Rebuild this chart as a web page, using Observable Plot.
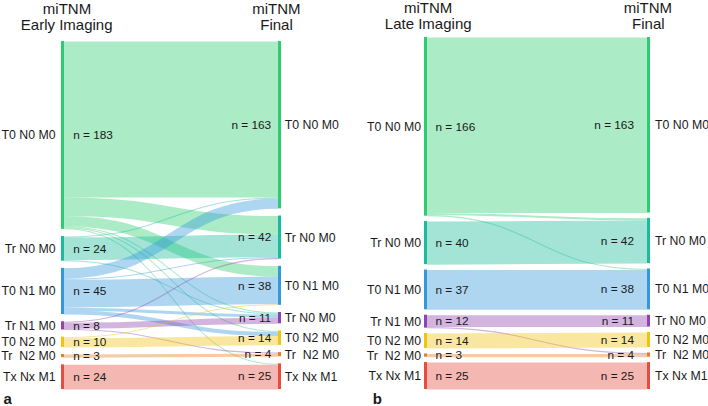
<!DOCTYPE html>
<html>
<head>
<meta charset="utf-8">
<script src="https://cdn.jsdelivr.net/npm/d3@7"></script>
<script src="https://cdn.jsdelivr.net/npm/@observablehq/plot@0.6"></script>
<style>
  html, body { margin: 0; padding: 0; background: #fff; }
  #wrap { display: flex; flex-direction: row; width: 708px; height: 406px; overflow: hidden; }
  #wrap svg { display: block; }
</style>
</head>
<body>
<div id="wrap"></div>
<script>
// ---- data ----
const categories = ["T0 N0 M0", "Tr N0 M0", "T0 N1 M0", "Tr N1 M0", "T0 N2 M0", "Tr\u00A0\u00A0N2 M0", "Tx Nx M1"];
const finalLabels = ["T0 N0 M0", "Tr N0 M0", "T0 N1 M0", "Tr N0 M0", "T0 N2 M0", "Tr\u00A0\u00A0N2 M0", "Tx Nx M1"];
const earlyCounts = [183, 24, 45, 8, 10, 3, 24];
const lateCounts = [166, 40, 37, 12, 14, 3, 25];
const finalCounts = [163, 42, 38, 11, 14, 4, 25];
// flows: [source index, target index, patients]
const earlyFlows = [
  [0, 0, 152], [0, 1, 18], [0, 2, 10], [0, 3, 1], [0, 4, 1], [0, 6, 1],
  [1, 0, 1], [1, 1, 22], [1, 3, 1],
  [2, 0, 10], [2, 1, 1], [2, 2, 27], [2, 3, 3], [2, 4, 4],
  [3, 1, 1], [3, 3, 6], [3, 5, 1],
  [4, 2, 1], [4, 4, 9],
  [5, 5, 3],
  [6, 6, 24]
];
const lateFlows = [
  [0, 0, 163], [0, 1, 2], [0, 2, 1],
  [1, 1, 40],
  [2, 2, 37],
  [3, 3, 11], [3, 5, 1],
  [4, 4, 14],
  [5, 5, 3],
  [6, 6, 25]
];
const colors = ["#2ecc71", "#1abc9c", "#3498db", "#8e44ad", "#f1c40f", "#e67e22", "#e74c3c"];
const panels = [
  {letter: "a", leftTitle: "Early Imaging", counts: earlyCounts, flows: earlyFlows},
  {letter: "b", leftTitle: "Late Imaging", counts: lateCounts, flows: lateFlows}
];

// ---- layout helpers ----
function stackNodes(counts, gap) {
  let y = 0;
  return counts.map((v, i) => {
    const n = {i, value: v, y0: y, y1: y + v};
    y += v + gap;
    return n;
  });
}

function buildPanel(p, opt) {
  const gap = opt.gap;
  const left = stackNodes(p.counts, gap);
  const right = stackNodes(finalCounts, gap);
  const total = left[left.length - 1].y1;
  const links = p.flows.map(([s, t, v]) => ({s, t, value: v}));
  left.forEach(n => {
    let off = n.y0;
    links.filter(l => l.s === n.i).sort((a, b) => a.t - b.t).forEach(l => { l.ys = off + l.value / 2; off += l.value; });
  });
  right.forEach(n => {
    let off = n.y0;
    links.filter(l => l.t === n.i).sort((a, b) => a.s - b.s).forEach(l => { l.yt = off + l.value / 2; off += l.value; });
  });
  const height = 406;
  const k = (height - opt.marginTop - opt.marginBottom) / total; // px per patient
  const font = "'Liberation Sans', Arial, Helvetica, sans-serif";
  const ink = "#1a1a1a";
  return Plot.plot({
    width: 354,
    height,
    marginLeft: opt.marginLeft,
    marginRight: opt.marginRight,
    marginTop: opt.marginTop,
    marginBottom: opt.marginBottom,
    style: {fontFamily: font, background: "#fff", overflow: "visible"},
    x: {domain: [0, 1], axis: null},
    y: {domain: [0, total], reverse: true, axis: null},
    color: {type: "ordinal", domain: categories, range: colors},
    marks: [
      Plot.link(links, {
        x1: () => 0, x2: () => 1,
        y1: "ys", y2: "yt",
        curve: "bump-x",
        stroke: d => categories[d.s],
        strokeWidth: d => d.value * k,
        strokeOpacity: 0.4
      }),
      Plot.ruleX(left, {x: 0, y1: "y0", y2: "y1", stroke: d => categories[d.i], strokeWidth: 3, dx: -1.5}),
      Plot.ruleX(right, {x: 1, y1: "y0", y2: "y1", stroke: d => categories[d.i], strokeWidth: 3, dx: 1.5}),
      Plot.text(left, {x: 0, y: d => (d.y0 + d.y1) / 2, text: d => categories[d.i], textAnchor: "end", lineAnchor: "middle", dx: opt.lNameDx, fontSize: 12.3, fill: ink}),
      Plot.text(left, {x: 0, y: d => (d.y0 + d.y1) / 2, text: d => `n = ${d.value}`, textAnchor: "start", lineAnchor: "middle", dx: opt.lCountDx, fontSize: 11.8, fill: ink}),
      Plot.text(right, {x: 1, y: d => (d.y0 + d.y1) / 2, text: d => finalLabels[d.i], textAnchor: "start", lineAnchor: "middle", dx: opt.rNameDx, fontSize: 12.3, fill: ink}),
      Plot.text(right, {x: 1, y: d => (d.y0 + d.y1) / 2, text: d => `n = ${d.value}`, textAnchor: "end", lineAnchor: "middle", dx: opt.rCountDx, fontSize: 11.8, fill: ink}),
      Plot.text(["miTNM"], {x: 0, frameAnchor: "top", lineAnchor: "middle", text: d => d, dx: opt.t1dx, dy: opt.t1dy, fontSize: 15, fill: ink}),
      Plot.text([p.leftTitle], {x: 0, frameAnchor: "top", lineAnchor: "middle", text: d => d, dx: opt.t2dx, dy: opt.t2dy, fontSize: 15, fill: ink}),
      Plot.text(["miTNM"], {x: 1, frameAnchor: "top", lineAnchor: "middle", text: d => d, dx: opt.t3dx, dy: opt.t1dy, fontSize: 15, fill: ink}),
      Plot.text(["Final"], {x: 1, frameAnchor: "top", lineAnchor: "middle", text: d => d, dx: opt.t4dx, dy: opt.t2dy, fontSize: 15, fill: ink}),
      Plot.text([p.letter], {frameAnchor: "bottom-left", lineAnchor: "middle", text: d => d, textAnchor: "start", dx: opt.letterDx, dy: 9.2, fontSize: 15, fontWeight: "bold", fill: ink})
    ]
  });
}

const wrap = document.getElementById("wrap");
wrap.appendChild(buildPanel(panels[0], {
  gap: 7, marginLeft: 63.5, marginRight: 76.5, marginTop: 41, marginBottom: 17,
  lNameDx: -8.5, lCountDx: 9.2, rNameDx: 6.8, rCountDx: -6.8,
  t1dx: 3, t2dx: 2.7, t3dx: -1.7, t4dx: -1.5, t1dy: -32.3, t2dy: -16.3, letterDx: -60.5
}));
wrap.appendChild(buildPanel(panels[1], {
  gap: 5, marginLeft: 72.5, marginRight: 61.5, marginTop: 37, marginBottom: 17,
  lNameDx: -6, lCountDx: 8.5, rNameDx: 8, rCountDx: -13,
  t1dx: 1.2, t2dx: 1.2, t3dx: 0.8, t4dx: 1.3, t1dy: -29.3, t2dy: -13.3, letterDx: -54.2
}));
</script>
</body>
</html>
